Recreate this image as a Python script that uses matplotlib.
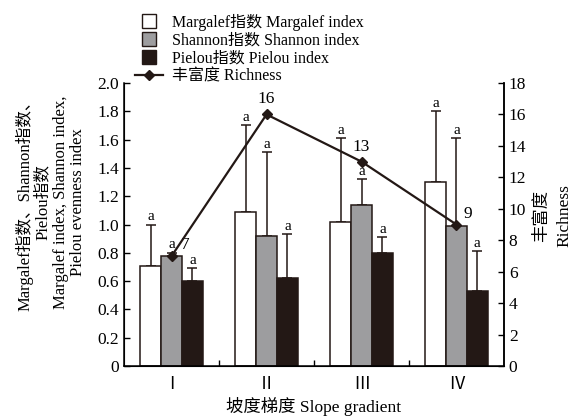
import numpy as np
import matplotlib.pyplot as plt
from matplotlib.lines import Line2D

plt.rcParams['font.family'] = ['Liberation Serif', 'Noto Sans CJK SC', 'DejaVu Sans']

# data
grads = ['Ⅰ', 'Ⅱ', 'Ⅲ', 'Ⅳ']
margalef = [0.71, 1.09, 1.02, 1.30]
margalef_err = [0.29, 0.61, 0.59, 0.50]
shannon = [0.78, 0.92, 1.14, 0.99]
shannon_err = [0.02, 0.59, 0.18, 0.62]
pielou = [0.60, 0.62, 0.80, 0.53]
pielou_err = [0.09, 0.31, 0.11, 0.28]
richness = [7, 16, 13, 9]
sig = ['a', 'a', 'a', 'a']

fig = plt.figure(figsize=(5.72, 4.17), dpi=100)
ax = fig.add_axes([0.217, 0.122, 0.664, 0.679])

x = np.arange(len(grads))
w = 0.22
series = [(margalef, margalef_err, 'white'),
          (shannon, shannon_err, '#9d9d9f'),
          (pielou, pielou_err, '#231815')]
for i, (vals, errs, col) in enumerate(series):
    pos = x + (i - 1) * w
    ax.bar(pos, vals, w, color=col, edgecolor='#231815', linewidth=1.1, zorder=2)
    ax.errorbar(pos, vals, yerr=[np.zeros(len(vals)), errs], fmt='none',
                ecolor='#231815', elinewidth=1.1, capsize=3.5, capthick=1.1, zorder=1)
    for p, v, e, s in zip(pos, vals, errs, sig):
        ax.text(p, v + e + 0.01, s, ha='center', va='bottom', fontsize=11)

ax.set_xlim(-0.5, 3.5)
ax.set_ylim(0, 2.0)
ax.set_yticks(np.arange(0, 2.01, 0.2))
ax.set_yticklabels(['0'] + ['%.1f' % v for v in np.arange(0.2, 2.01, 0.2)])
ax.set_xticks(x)
ax.set_xticklabels(grads, fontsize=12.5)
ax.set_xticks([0.5, 1.5, 2.5], minor=True)
ax.tick_params(axis='x', which='major', length=0, pad=8)
ax.tick_params(axis='x', which='minor', direction='in', length=4, width=1)
ax.tick_params(axis='y', direction='in', length=4, width=1, labelsize=12.5)
ax.spines['top'].set_visible(False)
for s in ['left', 'bottom', 'right']:
    ax.spines[s].set_linewidth(1.1)
ax.set_xlabel('坡度梯度 Slope gradient', fontsize=12.5, labelpad=3)
ax.set_ylabel('Margalef指数、Shannon指数、\nPielou指数\nMargalef index, Shannon index,\nPielou evenness index',
              fontsize=12, linespacing=1.12)
ax.yaxis.set_label_coords(-0.1, 0.58)

ax2 = ax.twinx()
ax2.set_ylim(0, 18)
ax2.set_yticks(np.arange(0, 19, 2))
ax2.tick_params(axis='y', direction='in', length=4, width=1, labelsize=12.5)
ax2.spines['top'].set_visible(False)
ax2.spines['right'].set_linewidth(1.1)
ax2.plot(x, richness, color='#231815', lw=1.6, marker='D', markersize=5, zorder=5)
offsets = [(7, 2, 'left'), (0, 5, 'center'), (0, 5, 'center'), (5, 2, 'left')]
for xi, r, (dx, dy, ha) in zip(x, richness, offsets):
    ax2.annotate(str(r), (xi, r), xytext=(dx, dy), textcoords='offset points',
                 ha=ha, va='bottom', fontsize=12.5)
ax2.set_ylabel('丰富度\nRichness', fontsize=12.5, linespacing=1.6)
ax2.yaxis.set_label_coords(1.078, 0.53)

handles = [Line2D([], [], ls='none', marker='s', markersize=9.5,
                  markerfacecolor='white', markeredgecolor='#231815'),
           Line2D([], [], ls='none', marker='s', markersize=9.5,
                  markerfacecolor='#9d9d9f', markeredgecolor='#231815'),
           Line2D([], [], ls='none', marker='s', markersize=9.5,
                  markerfacecolor='#231815', markeredgecolor='#231815'),
           Line2D([], [], color='#231815', marker='D', markersize=5, lw=1.6)]
labels = ['Margalef指数 Margalef index', 'Shannon指数 Shannon index',
          'Pielou指数 Pielou index', '丰富度 Richness']
fig.legend(handles, labels, loc='upper left', bbox_to_anchor=(0.236, 0.967),
           frameon=False, fontsize=11.5, handlelength=1.75,
           labelspacing=0.12, handletextpad=0.55, borderaxespad=0, borderpad=0)

fig.savefig('out.png', dpi=100)
